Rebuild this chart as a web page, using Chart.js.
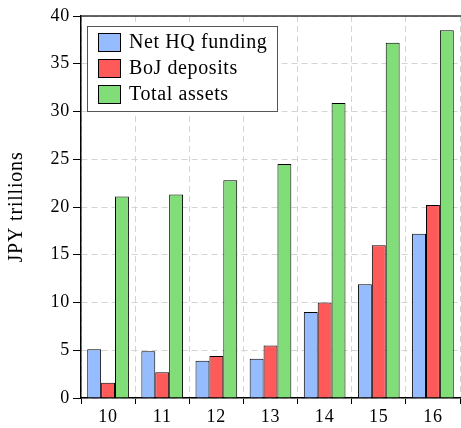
<!DOCTYPE html>
<html>
<head>
<meta charset="utf-8">
<script src="https://cdn.jsdelivr.net/npm/chart.js@4/dist/chart.umd.min.js"></script>
<style>
  html, body { margin: 0; padding: 0; background: #fff; }
  #wrap { width: 461px; height: 428px; }
</style>
</head>
<body>
<div id="wrap"><canvas id="grafico"></canvas></div>
<script>
const categorias = ['10', '11', '12', '13', '14', '15', '16'];
const netHQ = [5.1, 4.9, 3.9, 4.1, 9.0, 11.9, 17.2];
const bojDepositos = [1.6, 2.7, 4.4, 5.5, 10.0, 16.0, 20.2];
const activosTotales = [21.1, 21.3, 22.8, 24.5, 30.9, 37.2, 38.5];
const etiquetasSeries = ['Net HQ funding', 'BoJ deposits', 'Total assets'];
const colores = ['#94bcff', '#ff5a5a', '#80dd77'];

const fuente = '"Liberation Serif", "Times New Roman", serif';

// el original tiene el texto algo mas espaciado
const espaciado = {
  id: 'espaciado',
  beforeUpdate(chart) { chart.ctx.letterSpacing = '0.8px'; },
  beforeDraw(chart) { chart.ctx.letterSpacing = '0.8px'; }
};

// leyenda con marco blanco dentro del area del grafico
const leyendaCaja = {
  id: 'leyendaCaja',
  afterDraw(chart) {
    const { ctx, chartArea } = chart;
    const x = chartArea.left + 6, y = chartArea.top + 10;
    const w = 190, h = 85;
    ctx.save();
    ctx.fillStyle = '#fff';
    ctx.strokeStyle = '#555';
    ctx.lineWidth = 1;
    ctx.fillRect(x, y, w, h);
    ctx.strokeRect(x + 0.5, y + 0.5, w, h);
    ctx.font = '20px ' + fuente;
    ctx.letterSpacing = '0.6px';
    ctx.textBaseline = 'middle';
    chart.data.datasets.forEach((ds, i) => {
      const cy = y + 16 + i * 26;
      ctx.fillStyle = ds.backgroundColor;
      ctx.fillRect(x + 11, cy - 9, 22, 18);
      ctx.strokeStyle = '#000';
      ctx.strokeRect(x + 11.5, cy - 8.5, 22, 18);
      ctx.fillStyle = '#000';
      ctx.fillText(ds.label, x + 42, cy + 1);
    });
    ctx.restore();
  }
};

// linea superior del marco
const bordeSuperior = {
  id: 'bordeSuperior',
  afterDatasetsDraw(chart) {
    const { ctx, chartArea } = chart;
    ctx.save();
    ctx.strokeStyle = '#333';
    ctx.lineWidth = 1.5;
    ctx.beginPath();
    ctx.moveTo(chartArea.left, chartArea.top);
    ctx.lineTo(chart.width, chartArea.top);
    ctx.stroke();
    ctx.restore();
  }
};

new Chart(document.querySelector('#grafico'), {
  type: 'bar',
  data: {
    labels: categorias,
    datasets: [netHQ, bojDepositos, activosTotales].map((datos, i) => ({
      label: etiquetasSeries[i],
      data: datos,
      backgroundColor: colores[i],
      borderColor: '#000',
      borderWidth: 1,
      categoryPercentage: 0.77,
      barPercentage: 1.0
    }))
  },
  options: {
    responsive: true,
    maintainAspectRatio: false,
    animation: false,
    layout: { padding: { top: 16, right: 1, left: 0, bottom: 0 } },
    plugins: {
      legend: { display: false },
      tooltip: { enabled: false }
    },
    scales: {
      x: {
        offset: true,
        afterFit: (scale) => { scale.height = 30; },
        grid: {
          offset: true,
          color: '#d4d4d4',
          borderDash: [6, 4],
          tickColor: '#000',
          tickLength: 6,
          tickBorderDash: []
        },
        border: { color: '#000', width: 1.5, dash: [6, 4] },
        ticks: { color: '#000', padding: 2, font: { family: fuente, size: 18 } }
      },
      y: {
        min: 0,
        max: 40,
        afterFit: (scale) => { scale.width = 81; },
        grid: {
          color: '#d4d4d4',
          borderDash: [6, 4],
          tickColor: '#000',
          tickLength: 8,
          tickBorderDash: []
        },
        border: { color: '#000', width: 1.5, dash: [6, 4] },
        ticks: { stepSize: 5, color: '#000', padding: 3, font: { family: fuente, size: 18 } },
        title: {
          display: true,
          text: 'JPY trillions',
          color: '#000',
          padding: { top: 5, bottom: 0 },
          font: { family: fuente, size: 20 }
        }
      }
    }
  },
  plugins: [espaciado, bordeSuperior, leyendaCaja]
});
</script>
</body>
</html>
